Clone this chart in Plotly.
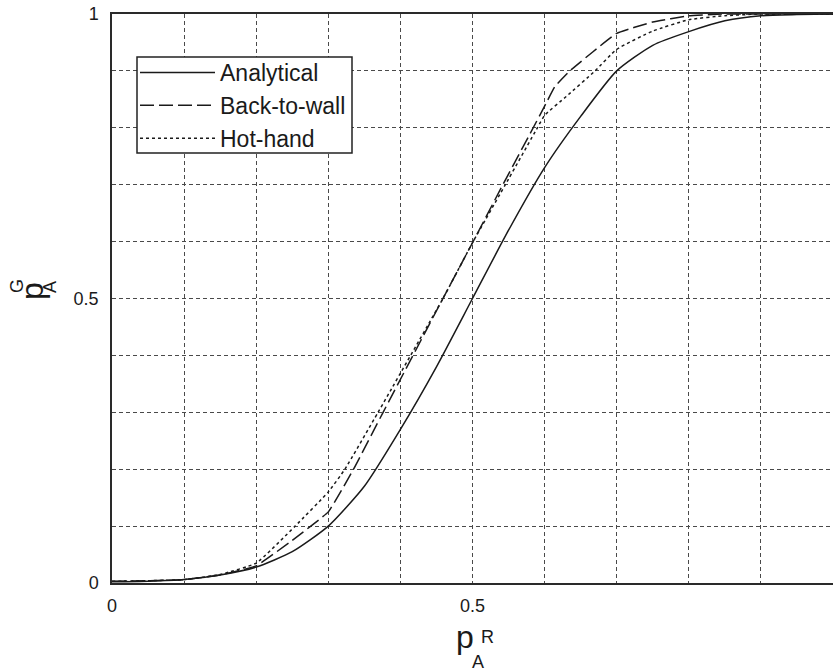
import plotly.graph_objects as go

# ---------------- data ----------------
x_analytical = [0.0, 0.05, 0.1, 0.15, 0.2, 0.25, 0.3, 0.35, 0.4, 0.45, 0.5, 0.55,
                0.6, 0.65, 0.7, 0.75, 0.8, 0.85, 0.9, 0.95, 1.0]
y_analytical = [0.002, 0.003, 0.006, 0.014, 0.028, 0.055, 0.10, 0.17, 0.27, 0.38, 0.50, 0.62,
                0.73, 0.82, 0.90, 0.945, 0.969, 0.988, 0.997, 0.999, 1.0]

x_backtowall = [0.0, 0.05, 0.1, 0.15, 0.2, 0.25, 0.3, 0.335, 0.376, 0.459, 0.5,
                0.54, 0.58, 0.6, 0.614, 0.635, 0.7, 0.75, 0.8, 0.85, 0.9, 1.0]
y_backtowall = [0.003, 0.004, 0.006, 0.014, 0.03, 0.075, 0.125, 0.2, 0.3, 0.5, 0.598,
                0.695, 0.79, 0.838, 0.872, 0.9, 0.966, 0.986, 0.997, 1.0, 1.0, 1.0]

x_hothand = [0.0, 0.05, 0.1, 0.15, 0.2, 0.254, 0.3, 0.323, 0.369, 0.459, 0.5,
             0.55, 0.59, 0.6, 0.63, 0.67, 0.7, 0.75, 0.8, 0.85, 0.9, 1.0]
y_hothand = [0.003, 0.004, 0.006, 0.015, 0.035, 0.1, 0.16, 0.2, 0.3, 0.5, 0.598,
             0.71, 0.8, 0.822, 0.855, 0.9, 0.938, 0.97, 0.99, 0.997, 1.0, 1.0]

series_names = ["Analytical", "Back-to-wall", "Hot-hand"]
grid_vals = [0.0, 0.1, 0.2, 0.3, 0.4, 0.5, 0.6, 0.7, 0.8, 0.9, 1.0]
x_tick_text = ["0", "", "", "", "", "0.5", "", "", "", "", ""]
y_tick_text = ["0", "", "", "", "", "0.5", "", "", "", "", "1"]

# ---------------- layout geometry ----------------
W, H = 833, 672
L, R, T, B = 112, 0, 14, 89
PW, PH = W - L - R, H - T - B
FONT = "Liberation Sans, Arial, Helvetica, sans-serif"
INK = "#1a1a1a"


def paper(xp, yp):
    return (xp - L) / PW, (H - B - yp) / PH


fig = go.Figure()
styles = [
    dict(dash="solid", smoothing=0.6),
    dict(dash="14px,5px", smoothing=0.3),
    dict(dash="3px,3px", smoothing=0.4),
]
for name, xs, ys, st in zip(series_names,
                            [x_analytical, x_backtowall, x_hothand],
                            [y_analytical, y_backtowall, y_hothand],
                            styles):
    fig.add_trace(go.Scatter(x=xs, y=ys, mode="lines", name=name,
                             line=dict(color=INK, width=1.5, dash=st["dash"], shape="spline",
                                       smoothing=st["smoothing"])))

axis_common = dict(
    range=[0, 1],
    tickvals=grid_vals,
    showgrid=True,
    gridcolor="#4a4a4a",
    gridwidth=1,
    griddash="4px,3px",
    zeroline=False,
    showline=True,
    linecolor="#2a2a2a",
    linewidth=1.5,
    ticks="",
    tickfont=dict(family=FONT, size=18, color=INK),
    fixedrange=True,
)

fig.update_xaxes(**axis_common, ticktext=x_tick_text, mirror=True, ticklabelstandoff=6)
fig.update_yaxes(**axis_common, ticktext=y_tick_text, mirror=False, ticklabelstandoff=8)

annotations = []


def add_text(text, xp, yp, size, angle=0):
    ax, ay = paper(xp, yp)
    annotations.append(dict(text=text, x=ax, y=ay, xref="paper", yref="paper",
                            xanchor="center", yanchor="middle", showarrow=False,
                            textangle=angle,
                            font=dict(family=FONT, size=size, color=INK)))


# x-axis title p_A^R
add_text("p", 465, 637, 32)
add_text("R", 487, 637, 18)
add_text("A", 478, 662, 18)
# y-axis title p_A^G (rotated)
add_text("p", 32, 291, 32, -90)
add_text("G", 17, 286, 18, -90)
add_text("A", 50, 287, 18, -90)

# legend frame
bx0, by0 = paper(137, 153)
bx1, by1 = paper(352, 57)
shapes = [dict(type="rect", xref="paper", yref="paper", x0=bx0, y0=by0, x1=bx1, y1=by1,
               line=dict(color="#222", width=1.5), fillcolor="white", layer="above")]

lx, ly = paper(135, 51)
fig.update_layout(
    width=W, height=H,
    margin=dict(l=L, r=R, t=T, b=B, pad=0),
    paper_bgcolor="white",
    plot_bgcolor="white",
    showlegend=True,
    legend=dict(x=lx, y=ly, xanchor="left", yanchor="top",
                bgcolor="rgba(0,0,0,0)", borderwidth=0,
                font=dict(family=FONT, size=23, color=INK),
                itemwidth=75, tracegroupgap=0),
    annotations=annotations,
    shapes=shapes,
)

fig.write_html("out.html")
